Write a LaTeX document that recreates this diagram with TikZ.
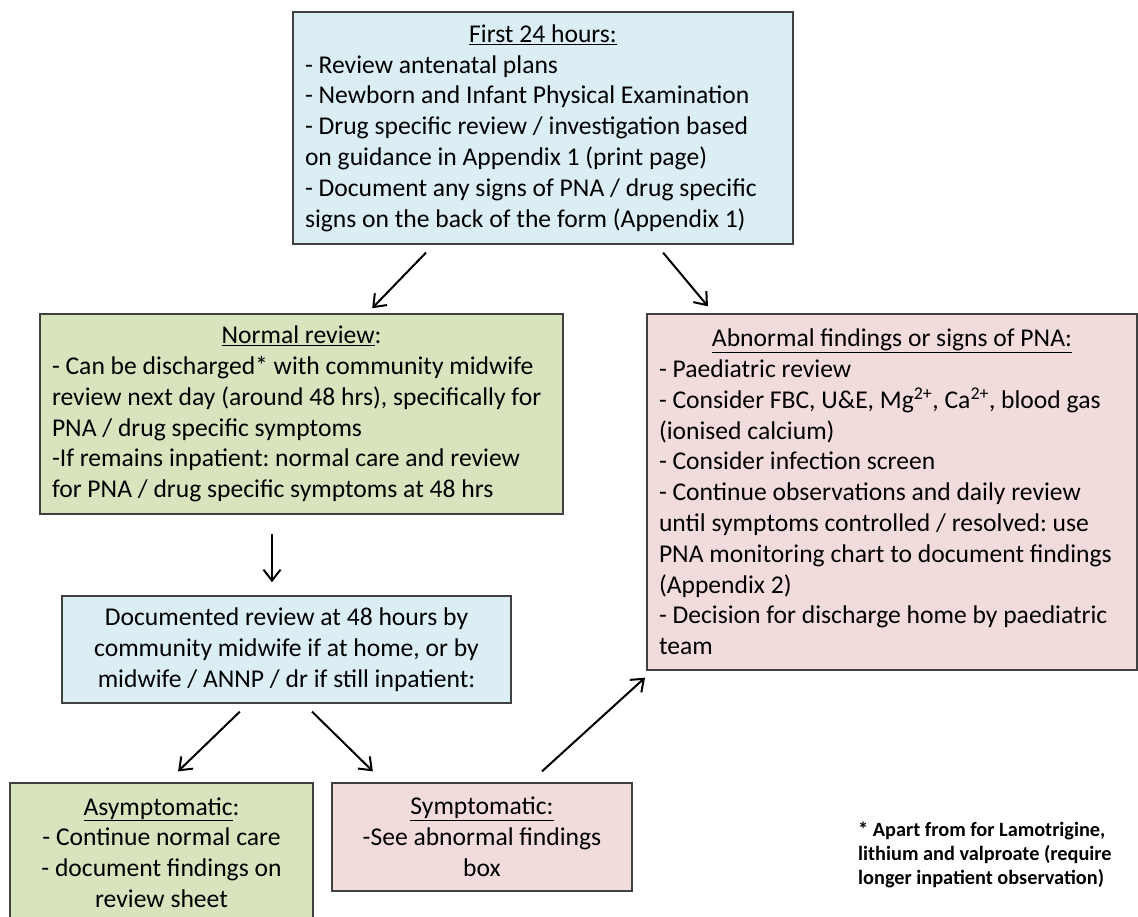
\documentclass[tikz,border=0pt]{standalone}
\usepackage{fontspec}
\setmainfont{Carlito}
\usetikzlibrary{arrows.meta}

\definecolor{boxblue}{HTML}{DAEEF3}
\definecolor{boxgreen}{HTML}{D7E4BD}
\definecolor{boxpink}{HTML}{F2DCDB}
\definecolor{boxline}{HTML}{404040}

\frenchspacing
\hyphenpenalty=10000
\exhyphenpenalty=10000

\newcommand{\boxhead}[1]{\makebox[\linewidth][c]{#1}}

\begin{document}
\begin{tikzpicture}[x=1pt, y=-1pt,
	box/.style={draw=boxline, line width=1.5pt, rectangle, inner xsep=12pt, inner ysep=0pt,
		font=\fontsize{25.6}{30.8}\selectfont,
		execute at begin node={\spaceskip=0.226em\xspaceskip=0.226em}},
	arr/.style={-{Straight Barb[length=11pt,width=17pt]}, line width=2pt}]
	\path[use as bounding box, fill=white] (0,0) rectangle (1138,917);

	% boxes
	\node[box, fill=boxblue, text width=476pt, minimum height=232pt, align=left] (first) at (543,128)
		{\boxhead{\underline{First 24 hours:}}\\
		- Review antenatal plans\\
		- Newborn and Infant Physical Examination\\
		- Drug specific review / investigation based\\
		on guidance in Appendix 1 (print page)\\
		- Document any signs of PNA / drug specific\\
		signs on the back of the form (Appendix 1)};
	\node[box, fill=boxgreen, text width=499pt, minimum height=200pt, align=left] (normal) at (301.5,414)
		{\boxhead{\underline{Normal review}:}\\
		- Can be discharged* with community midwife\\
		review next day (around 48 hrs), specifically for\\
		PNA / drug specific symptoms\\
		-If remains inpatient: normal care and review\\
		for PNA / drug specific symptoms at 48 hrs};
	\node[box, fill=boxpink, text width=466pt, minimum height=356pt, align=left] (abnormal) at (892,492)
		{\boxhead{\underline{Abnormal findings or signs of PNA:}}\\
		- Paediatric review\\
		- Consider FBC, U\&E, Mg\textsuperscript{2+}, Ca\textsuperscript{2+}, blood gas\\
		(ionised calcium)\\
		- Consider infection screen\\
		- Continue observations and daily review\\
		until symptoms controlled / resolved: use\\
		PNA monitoring chart to document findings\\
		(Appendix 2)\\
		- Decision for discharge home by paediatric\\
		team};
	\node[box, fill=boxblue, text width=425pt, minimum height=107pt, align=center] (docrev) at (286.5,649.5)
		{Documented review at 48 hours by\\
		community midwife if at home, or by\\
		midwife / ANNP / dr if still inpatient:};
	\node[box, fill=boxgreen, text width=279pt, minimum height=139pt, align=center] (asym) at (161.5,852.5)
		{\underline{Asymptomatic}:\\
		- Continue normal care\\
		- document findings on\\
		review sheet};
	\node[box, fill=boxpink, text width=276pt, minimum height=108pt, align=center] (symp) at (482,837)
		{\underline{Symptomatic:}\\
		-See abnormal findings\\
		box};

	% footnote
	\node[font=\fontsize{20.3}{24}\selectfont\bfseries, align=left, anchor=base west, inner sep=0pt,
		execute at begin node={\spaceskip=0.226em\xspaceskip=0.226em}] (note) at (858,884)
		{* Apart from for Lamotrigine,\\
		lithium and valproate (require\\
		longer inpatient observation)};

	% arrows
	\draw[arr, shorten <=11pt, shorten >=7pt] ([xshift=-109.4pt]first.south) -- ([xshift=65.8pt]normal.north);
	\draw[arr, shorten <=10.3pt, shorten >=9pt] ([xshift=113.5pt]first.south) -- ([xshift=-178.3pt]abnormal.north);
	\draw[arr, shorten <=19pt, shorten >=13pt] ([xshift=-29.5pt]normal.south) -- ([xshift=-14.5pt]docrev.north);
	\draw[arr, shorten <=11.4pt, shorten >=15.7pt] ([xshift=-38.5pt]docrev.south) -- ([xshift=5.3pt]asym.north);
	\draw[arr, shorten <=11.3pt, shorten >=15.6pt] ([xshift=17.5pt]docrev.south) -- ([xshift=-98pt]symp.north);
	\draw[arr, shorten <=16.2pt, shorten >=10.3pt] ([xshift=48pt]symp.north) -- ([xshift=-239.4pt]abnormal.south);
\end{tikzpicture}
\end{document}
